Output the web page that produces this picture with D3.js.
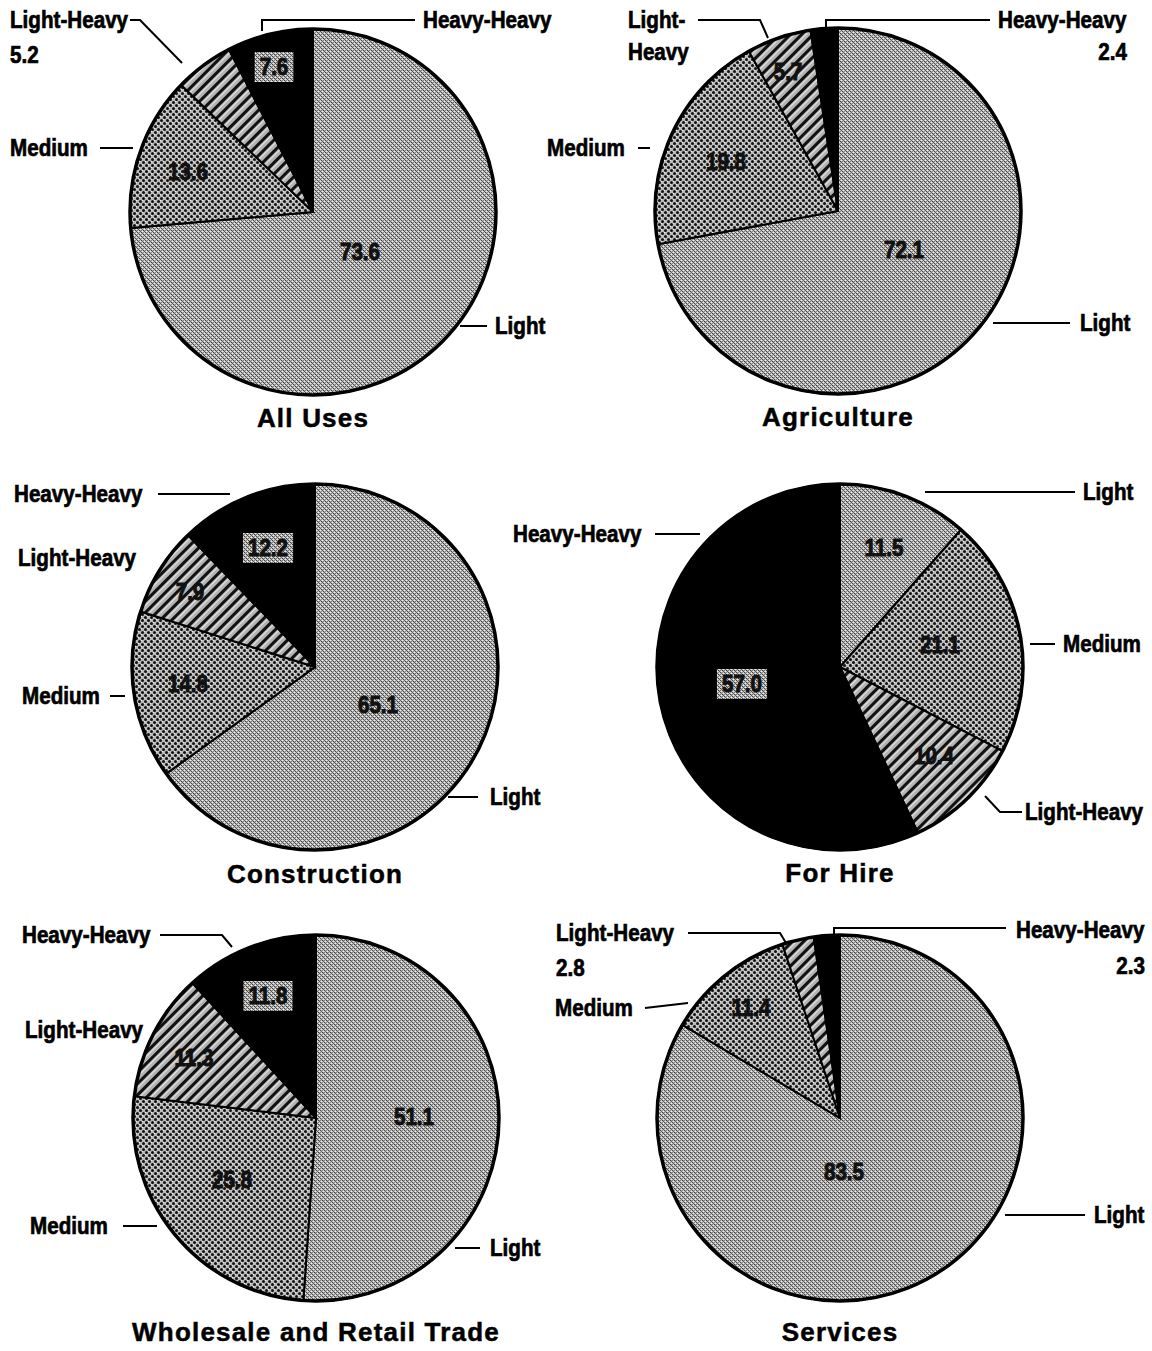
<!DOCTYPE html>
<html>
<head>
<meta charset="utf-8">
<script src="https://cdn.jsdelivr.net/npm/d3@7"></script>
<style>
  body { margin: 0; background: #fff; }
</style>
</head>
<body>
<svg id="chart"></svg>
<script>
// truck weight classes, percent share by use
const categories = ["Light", "Medium", "Light-Heavy", "Heavy-Heavy"];
const titles = ["All Uses", "Agriculture", "Construction", "For Hire", "Wholesale and Retail Trade", "Services"];
const allUses = [73.6, 13.6, 5.2, 7.6];
const agriculture = [72.1, 19.8, 5.7, 2.4];
const construction = [65.1, 14.8, 7.9, 12.2];
const forHire = [11.5, 21.1, 10.4, 57.0];
const wholesaleRetail = [51.1, 25.8, 11.3, 11.8];
const services = [83.5, 11.4, 2.8, 2.3];
const series = [allUses, agriculture, construction, forHire, wholesaleRetail, services];

const W = 1152, H = 1351, R = 183;
const font = "'Liberation Sans', Arial, sans-serif";
const squeeze = 0.86; // fake a condensed face

// where each pie sits and where its callouts go (layout only)
const layout = [
  { cx: 313, cy: 212, ty: 418,
    names: [
      { k: 0, x: 495, y: 326, line: [[460, 326], [487, 326]] },
      { k: 1, x: 10, y: 148, line: [[100, 148], [133, 148]] },
      { k: 2, x: 10, y: 20, line: [[130, 20], [140, 20], [182, 63]], val: { x: 10, y: 55 } },
      { k: 3, x: 423, y: 20, line: [[415, 20], [262, 20], [262, 31]] }],
    vals: [{ k: 0, x: 360, y: 252 }, { k: 1, x: 188, y: 172 }, { k: 3, x: 274, y: 67, box: true }] },
  { cx: 838, cy: 211, ty: 417,
    names: [
      { k: 0, x: 1080, y: 323, line: [[993, 323], [1070, 323]] },
      { k: 1, x: 547, y: 148, line: [[638, 148], [650, 148]] },
      { k: 2, x: 628, y: 20, split: true, line: [[698, 20], [760, 20], [768, 38]] },
      { k: 3, x: 998, y: 20, line: [[990, 20], [826, 20], [826, 29]], val: { x: 1127, y: 52, anchor: "end" } }],
    vals: [{ k: 0, x: 904, y: 250 }, { k: 1, x: 726, y: 162 }, { k: 2, x: 788, y: 72 }] },
  { cx: 315, cy: 667, ty: 874,
    names: [
      { k: 0, x: 490, y: 797, line: [[448, 797], [478, 797]] },
      { k: 1, x: 22, y: 696, line: [[110, 696], [125, 696]] },
      { k: 2, x: 18, y: 558 },
      { k: 3, x: 14, y: 494, line: [[158, 494], [230, 494]] }],
    vals: [{ k: 0, x: 378, y: 705 }, { k: 1, x: 188, y: 684 }, { k: 2, x: 190, y: 592 }, { k: 3, x: 268, y: 548, box: true }] },
  { cx: 840, cy: 667, ty: 873,
    names: [
      { k: 0, x: 1083, y: 492, line: [[925, 492], [1075, 492]] },
      { k: 1, x: 1063, y: 644, line: [[1030, 644], [1055, 644]] },
      { k: 2, x: 1025, y: 812, line: [[985, 796], [1000, 812], [1022, 812]] },
      { k: 3, x: 513, y: 534, line: [[655, 534], [700, 534]] }],
    vals: [{ k: 0, x: 884, y: 548 }, { k: 1, x: 940, y: 645 }, { k: 2, x: 934, y: 756 }, { k: 3, x: 742, y: 684, box: true }] },
  { cx: 316, cy: 1118, ty: 1332,
    names: [
      { k: 0, x: 490, y: 1248, line: [[455, 1248], [480, 1248]] },
      { k: 1, x: 30, y: 1226, line: [[123, 1226], [157, 1226]] },
      { k: 2, x: 25, y: 1030 },
      { k: 3, x: 22, y: 935, line: [[160, 935], [222, 935], [232, 947]] }],
    vals: [{ k: 0, x: 414, y: 1117 }, { k: 1, x: 232, y: 1180 }, { k: 2, x: 194, y: 1058 }, { k: 3, x: 268, y: 996, box: true }] },
  { cx: 840, cy: 1118, ty: 1332,
    names: [
      { k: 0, x: 1094, y: 1215, line: [[1005, 1215], [1085, 1215]] },
      { k: 1, x: 555, y: 1008, line: [[645, 1008], [688, 1003]] },
      { k: 2, x: 556, y: 933, line: [[688, 933], [780, 933], [786, 943]], val: { x: 556, y: 968 } },
      { k: 3, x: 1016, y: 930, line: [[1006, 928], [834, 928], [834, 938]], val: { x: 1145, y: 966, anchor: "end" } }],
    vals: [{ k: 0, x: 844, y: 1172 }, { k: 1, x: 751, y: 1008 }] }
];

const svg = d3.select("#chart").attr("width", W).attr("height", H);
const defs = svg.append("defs");

// dithered screens like the printed original
const pLight = defs.append("pattern").attr("id", "pLight")
  .attr("patternUnits", "userSpaceOnUse").attr("width", 4).attr("height", 4);
pLight.append("rect").attr("width", 4).attr("height", 4).attr("fill", "#c4c4c4");
[[0, 0, "#444"], [2, 0, "#888"], [1, 1, "#666"], [3, 1, "#f0f0f0"], [0, 2, "#7a7a7a"],
 [2, 2, "#3a3a3a"], [1, 3, "#ececec"], [3, 3, "#5a5a5a"], [1, 0, "#aaa"], [3, 2, "#999"]]
  .forEach(([x, y, c]) => pLight.append("rect").attr("x", x).attr("y", y)
    .attr("width", 1).attr("height", 1).attr("fill", c));

const pMed = defs.append("pattern").attr("id", "pMedium")
  .attr("patternUnits", "userSpaceOnUse").attr("width", 6).attr("height", 6);
pMed.append("rect").attr("width", 6).attr("height", 6).attr("fill", "#bcbcbc");
pMed.append("rect").attr("x", 3).attr("y", 0).attr("width", 1).attr("height", 1).attr("fill", "#eee");
pMed.append("rect").attr("x", 0).attr("y", 3).attr("width", 1).attr("height", 1).attr("fill", "#eee");
pMed.append("circle").attr("cx", 1.5).attr("cy", 1.5).attr("r", 1.5).attr("fill", "#111");
pMed.append("circle").attr("cx", 4.5).attr("cy", 4.5).attr("r", 1.5).attr("fill", "#111");

const pLH = defs.append("pattern").attr("id", "pLightHeavy")
  .attr("patternUnits", "userSpaceOnUse").attr("width", 8).attr("height", 8)
  .attr("patternTransform", "rotate(45)");
pLH.append("rect").attr("width", 8).attr("height", 8).attr("fill", "#b4b4b4");
pLH.append("rect").attr("x", 4).attr("width", 1).attr("height", 8).attr("fill", "#e6e6e6");
pLH.append("rect").attr("x", 0).attr("width", 3).attr("height", 8).attr("fill", "#111");

const fill = d3.scaleOrdinal()
  .domain(categories)
  .range(["url(#pLight)", "url(#pMedium)", "url(#pLightHeavy)", "#000"]);

const pie = d3.pie().sort(null).value(d => d);
const arc = d3.arc().innerRadius(0).outerRadius(R);
const fmt = d3.format(".1f");

function condensed(sel, x, y, txt, anchor) {
  return sel.append("text")
    .attr("transform", `translate(${x},${y}) scale(${squeeze},1)`)
    .attr("dy", "0.35em")
    .attr("text-anchor", anchor || "start")
    .attr("font-family", font).attr("font-weight", "bold")
    .attr("font-size", 24).attr("fill", "#000")
    .attr("stroke", "#000").attr("stroke-width", 0.7)
    .text(txt);
}

series.forEach((vals, i) => {
  const L = layout[i];
  const g = svg.append("g");
  const pg = g.append("g").attr("transform", `translate(${L.cx},${L.cy})`);

  pg.selectAll("path.slice")
    .data(pie(vals))
    .join("path")
    .attr("class", "slice")
    .attr("d", arc)
    .attr("fill", (d, j) => fill(categories[j]))
    .attr("stroke", "#000")
    .attr("stroke-width", 2);

  pg.append("circle").attr("r", R).attr("fill", "none")
    .attr("stroke", "#000").attr("stroke-width", 3.5);

  // values inside the slices
  L.vals.forEach(v => {
    const t = condensed(g, v.x, v.y, fmt(vals[v.k]), "middle")
      .attr("fill", "#111").attr("stroke", "#111").attr("stroke-width", 1);
    if (v.box) {
      const w = t.node().getComputedTextLength() * squeeze;
      g.insert("rect", "text").attr("x", v.x - w / 2 - 5).attr("y", v.y - 15)
        .attr("width", w + 10).attr("height", 30).attr("fill", "url(#pLight)");
      t.raise();
    }
  });

  // category callouts
  L.names.forEach(n => {
    if (n.line) {
      g.append("path").attr("d", d3.line()(n.line))
        .attr("fill", "none").attr("stroke", "#000").attr("stroke-width", 2);
    }
    const name = categories[n.k];
    const parts = n.split ? [name.split("-")[0] + "-", name.split("-")[1]] : [name];
    parts.forEach((p, j) => condensed(g, n.x, n.y + j * 32, p));
    if (n.val) condensed(g, n.val.x, n.val.y, fmt(vals[n.k]), n.val.anchor);
  });

  g.append("text").attr("x", L.cx).attr("y", L.ty).attr("dy", "0.35em")
    .attr("text-anchor", "middle").attr("font-family", font)
    .attr("font-weight", "bold").attr("font-size", 26).attr("letter-spacing", 1.2)
    .attr("stroke", "#000").attr("stroke-width", 0.5)
    .attr("fill", "#000").text(titles[i]);
});
</script>
</body>
</html>
